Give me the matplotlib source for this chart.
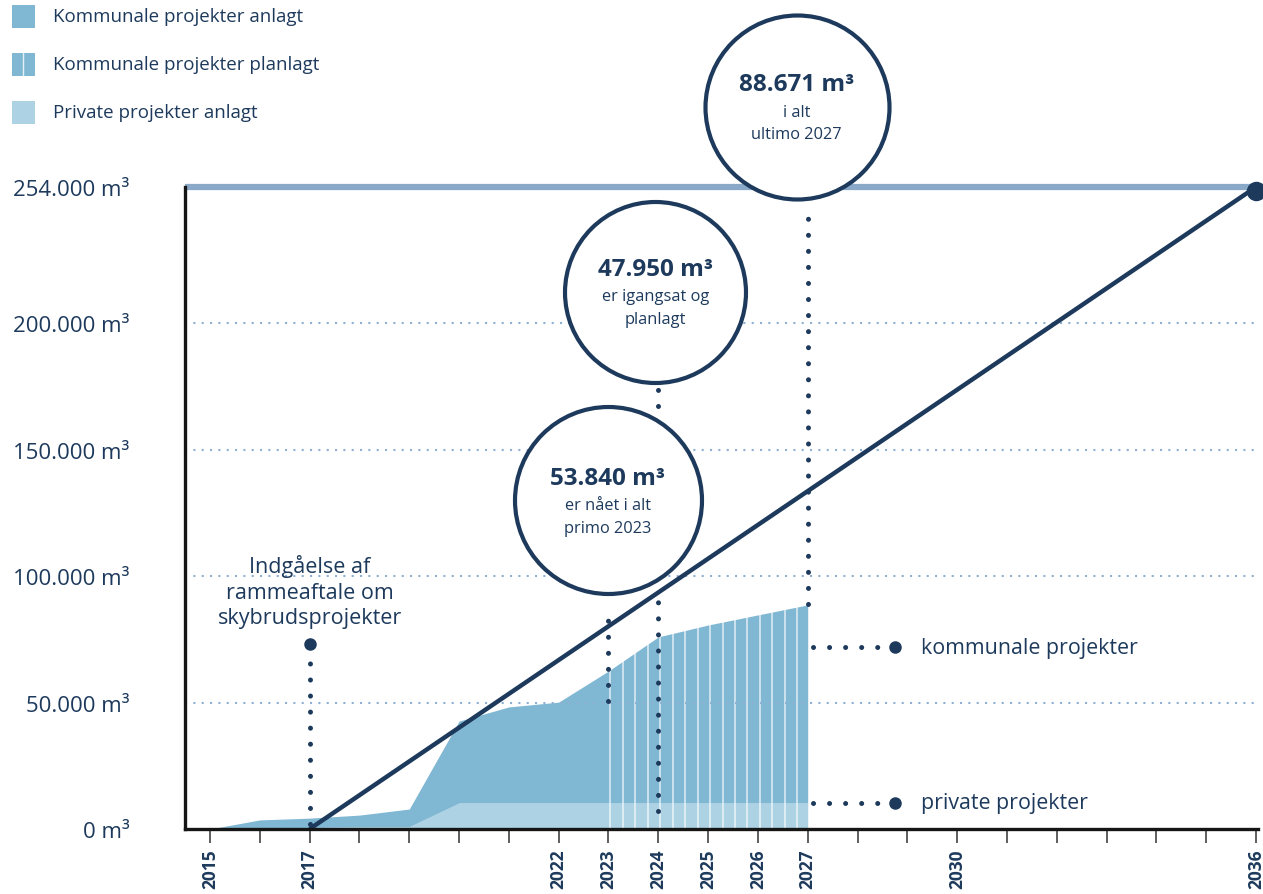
import matplotlib
matplotlib.use("Agg")
import numpy as np
import matplotlib.pyplot as plt
from matplotlib.patches import Rectangle
from matplotlib.lines import Line2D

plt.rcParams['font.family'] = ['Open Sans', 'DejaVu Sans']

NAVY = '#1d3a5c'
KOM = '#80b8d4'
PRIV = '#acd2e3'
TOPLINE = '#8aa9c9'
GRID = '#8fb0d3'

# skybrudsvolumen pr. år (m³)
years = [2015, 2016, 2017, 2018, 2019, 2020, 2021, 2022, 2023, 2024, 2025, 2026, 2027]
total = [0, 3600, 4300, 5500, 7900, 42700, 48300, 50200, 62500, 76000, 80700, 84700, 88671]
private = [0, 300, 600, 800, 900, 10300, 10300, 10300, 10300, 10300, 10300, 10300, 10300]
planned_from = 2023

# målsætning
target_years = [2017, 2036]
target_vals = [0, 254000]

yticks = [0, 50000, 100000, 150000, 200000, 254000]
ytick_labels = ['0 m³', '50.000 m³', '100.000 m³', '150.000 m³', '200.000 m³', '254.000 m³']
all_years = list(range(2015, 2037))
labelled_years = [2015, 2017, 2022, 2023, 2024, 2025, 2026, 2027, 2030, 2036]

# cirkler: (x, y, tal, tekst, diameter i px)
bubbles = [
    (2026.78, 285600, '88.671 m³', 'i alt\nultimo 2027', 184),
    (2023.94, 212600, '47.950 m³', 'er igangsat og\nplanlagt', 181),
    (2022.99, 130000, '53.840 m³', 'er nået i alt\nprimo 2023', 187),
]

legend_labels = ['Kommunale projekter anlagt', 'Kommunale projekter planlagt', 'Private projekter anlagt']
legend_colors = [KOM, KOM, PRIV]

W, H = 1263, 895
fig = plt.figure(figsize=(W / 100, H / 100), dpi=100)
ax = fig.add_axes([185 / W, 65 / H, 1073 / W, 642 / H])
ax.set_xlim(2014.498, 2036.04)
ax.set_ylim(0, 254000)

yrs = np.array(years, dtype=float)
tot = np.array(total, dtype=float)
prv = np.array(private, dtype=float)

# arealer
ax.fill_between(yrs, 0, prv, color=PRIV, lw=0, zorder=1)
ax.fill_between(yrs, prv, tot, color=KOM, lw=0, zorder=1)

# planlagte projekter markeres med tynde hvide streger
plan_x = np.arange(planned_from, 2027, 0.25) + 0.04
ax.vlines(plan_x, 0, np.interp(plan_x, yrs, tot), color='white', lw=1.3, alpha=0.65, zorder=2)

# hjælpelinjer
for y in yticks[1:-1]:
    ax.axhline(y, color=GRID, lw=1.5, ls=(0, (1.0, 3.0)), zorder=3)
ax.axhline(254000, color=TOPLINE, lw=4.5, zorder=3, clip_on=False, solid_capstyle='butt')

# målsætningslinje
ax.plot(target_years, target_vals, color=NAVY, lw=3.2, zorder=5, solid_capstyle='butt')
ax.plot(target_years[-1], 252600, 'o', color=NAVY, ms=13, zorder=6, clip_on=False)

dot = dict(color=NAVY, lw=3.6, ls=(0, (0.01, 3.2)), dash_capstyle='round', zorder=4)
ax.plot([2017, 2017], [2000, 70000], **dot)
ax.plot(2017, 73200, 'o', color=NAVY, ms=8, zorder=4)
ax.plot([2023, 2023], [50600, 87500], **dot)
ax.plot([2024, 2024], [7100, 92200], **dot)
ax.plot([2024, 2024], [167500, 174000], **dot)
ax.plot([2027, 2027], [89000, 245000], **dot)

# forklaringer til højre
for yv, label in [(72000, 'kommunale projekter'), (10300, 'private projekter')]:
    ax.plot([2027.1, 2028.5], [yv, yv], **dot)
    ax.plot(2028.76, yv, 'o', color=NAVY, ms=8, zorder=4)
    ax.text(2029.27, yv, label, color=NAVY, fontsize=15.4, va='center', ha='left')

ax.text(2017, 94150, 'Indgåelse af\nrammeaftale om\nskybrudsprojekter', color=NAVY,
        fontsize=15.5, ha='center', va='center', linespacing=1.3)

# cirkler
for bx, by, num, txt, d in bubbles:
    ax.scatter([bx], [by], s=(d * 0.72) ** 2, facecolor='white', edgecolor=NAVY,
               linewidths=3, zorder=7, clip_on=False)
    ax.annotate(num, (bx, by), xytext=(0, 16.5), textcoords='offset points', ha='center',
                va='center', fontsize=17.5, fontweight='bold', color=NAVY, zorder=8,
                annotation_clip=False)
    ax.annotate(txt, (bx, by), xytext=(0, -11.5), textcoords='offset points', ha='center',
                va='center', fontsize=11.8, color=NAVY, zorder=8, linespacing=1.55,
                annotation_clip=False)

# akser
for side in ['top', 'right']:
    ax.spines[side].set_visible(False)
for side in ['left', 'bottom']:
    ax.spines[side].set_linewidth(2.4)
    ax.spines[side].set_color('#151515')
    ax.spines[side].set_zorder(6)

ax.set_yticks(yticks)
ax.set_yticklabels(ytick_labels)
ax.tick_params(axis='y', length=0, pad=40, labelsize=16, labelcolor=NAVY)

ax.set_xticks(all_years)
ax.set_xticklabels([str(y) if y in labelled_years else '' for y in all_years],
                   rotation=90, fontweight='bold')
ax.tick_params(axis='x', length=10, width=1.1, color='#333333', pad=4,
               labelsize=12.5, labelcolor=NAVY)

# signaturforklaring
for i, (lab, col) in enumerate(zip(legend_labels, legend_colors)):
    yc = 17 + 48 * i
    fig.add_artist(Rectangle((12 / W, 1 - (yc + 11.5) / H), 23 / W, 23 / H,
                             transform=fig.transFigure, facecolor=col, lw=0))
    if i == 1:
        fig.add_artist(Line2D([23.5 / W, 23.5 / W], [1 - (yc + 11.5) / H, 1 - (yc - 11.5) / H],
                              transform=fig.transFigure, color='white', lw=1.0, alpha=0.8))
    fig.text(53 / W, 1 - yc / H, lab, color=NAVY, fontsize=13.5, va='center', ha='left')

fig.savefig('out.png', dpi=100)
